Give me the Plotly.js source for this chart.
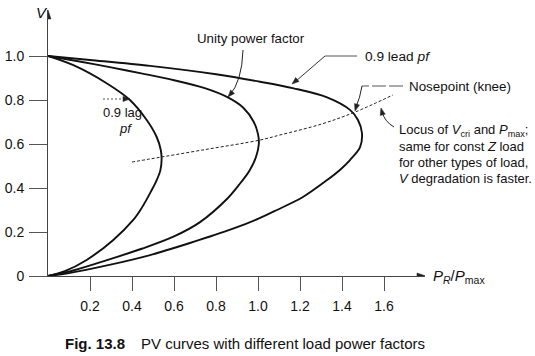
<!DOCTYPE html>
<html>
<head>
<meta charset="utf-8">
<script src="https://cdn.plot.ly/plotly-3.0.1.min.js"></script>
<style>
  html, body { margin: 0; padding: 0; background: #fff; }
  #chart { width: 535px; height: 356px; }
</style>
</head>
<body>
<div id="chart"></div>
<script>
// ---- data ----
const xTickVals = [0.2, 0.4, 0.6, 0.8, 1.0, 1.2, 1.4, 1.6];
const xTickText = ['0.2', '0.4', '0.6', '0.8', '1.0', '1.2', '1.4', '1.6'];
const yTickVals = [0, 0.2, 0.4, 0.6, 0.8, 1.0];
const yTickText = ['0', '0.2', '0.4', '0.6', '0.8', '1.0'];

// 0.9 lag pf curve (P_R/P_max, V)
const lagX = [0, 0.121, 0.279, 0.39, 0.47, 0.517, 0.537, 0.541, 0.535, 0.515, 0.488, 0.468, 0.44, 0.406, 0.311, 0.184, 0.08, 0];
const lagV = [1, 0.958, 0.876, 0.80, 0.709, 0.633, 0.573, 0.53, 0.48, 0.43, 0.38, 0.345, 0.30, 0.255, 0.164, 0.073, 0.022, 0];

// unity pf curve
const unityX = [0, 0.15, 0.3, 0.45, 0.6, 0.75, 0.852, 0.93, 0.98, 1.0, 1.004, 0.99, 0.96, 0.91, 0.852, 0.724, 0.6, 0.45, 0.281, 0.12, 0];
const unityV = [1, 0.975, 0.948, 0.92, 0.89, 0.853, 0.814, 0.765, 0.70, 0.645, 0.60, 0.54, 0.48, 0.415, 0.35, 0.245, 0.18, 0.125, 0.072, 0.025, 0];

// 0.9 lead pf curve
const leadX = [0, 0.2, 0.486, 0.8, 1.01, 1.17, 1.329, 1.438, 1.476, 1.495, 1.486, 1.438, 1.39, 1.329, 1.214, 1.09, 1.01, 0.881, 0.676, 0.486, 0.281, 0.1, 0];
const leadV = [1, 0.982, 0.955, 0.917, 0.883, 0.853, 0.812, 0.755, 0.709, 0.65, 0.586, 0.527, 0.482, 0.436, 0.359, 0.30, 0.264, 0.215, 0.15, 0.095, 0.048, 0.013, 0];

// locus of V_cri and P_max (dashed)
const locusX = [0.4, 0.486, 0.75, 1.01, 1.105, 1.3, 1.462, 1.643];
const locusV = [0.518, 0.532, 0.575, 0.618, 0.641, 0.69, 0.745, 0.823];

// ---- layout helpers (annotation placement, pixel -> axis / paper units) ----
const L = 48, B = 276, T = 10, R = 425;
const SX = 210, SY = 220;
const X = px => (px - L) / SX;
const Y = py => (B - py) / SY;
const XP = px => (px - L) / (R - L);
const YP = py => (B - py) / (B - T);
const P = (px, py) => X(px) + ',' + Y(py);
const FONT = 'Liberation Sans, Arial, Helvetica, sans-serif';

const curveLine = { color: '#111', width: 1.9, shape: 'spline', smoothing: 0.9 };
const traces = [
  { x: lagX, y: lagV, mode: 'lines', line: curveLine, hoverinfo: 'skip' },
  { x: unityX, y: unityV, mode: 'lines', line: curveLine, hoverinfo: 'skip' },
  { x: leadX, y: leadV, mode: 'lines', line: curveLine, hoverinfo: 'skip' },
  { x: locusX, y: locusV, mode: 'lines', line: { color: '#222', width: 1, dash: '3px,2px', shape: 'spline' }, hoverinfo: 'skip' }
];

function txt(text, px, py, size, opts) {
  return Object.assign({
    text: text, x: XP(px), y: YP(py), xref: 'paper', yref: 'paper',
    xanchor: 'left', yanchor: 'middle', showarrow: false,
    font: { family: FONT, size: size, color: '#111' }
  }, opts || {});
}

const annotations = [
  // axis labels
  txt('<i>V</i>', 34, 12, 15),
  txt('<i>P</i><sub><i>R</i></sub>/<i>P</i><sub>max</sub>', 431, 276, 15),
  // curve labels
  txt('Unity power factor', 195, 38, 13.3),
  txt('0.9 lead <i>pf</i>', 363, 57, 13.7),
  txt('Nosepoint (knee)', 407, 86, 13.4),
  txt('0.9 lag', 101, 113, 13),
  txt('<i>pf</i>', 117, 128, 13),
  txt('Locus of <i>V</i><sub>cri</sub> and <i>P</i><sub>max</sub>;', 397, 130, 13),
  txt('same for const <i>Z</i> load', 397, 146, 13),
  txt('for other types of load,', 397, 162, 13),
  txt('<i>V</i> degradation is faster.', 397, 178, 13),
  // caption
  txt('<b>Fig. 13.8</b>', 63, 343, 15),
  txt('PV curves with different load power factors', 139, 343, 15)
];

// filled arrowhead triangle, computed in pixel space then mapped to axis units
function tri(tx, ty, fx, fy, len, hw) {
  len = len || 7; hw = hw || 2.6;
  const dx = tx - fx, dy = ty - fy, d = Math.hypot(dx, dy);
  const ux = dx / d, uy = dy / d, bx = tx - ux * len, by = ty - uy * len;
  const nx = -uy, ny = ux;
  return {
    type: 'path', xref: 'x', yref: 'y',
    path: 'M' + P(tx, ty) + ' L' + P(bx + nx * hw, by + ny * hw) + ' L' + P(bx - nx * hw, by - ny * hw) + ' Z',
    fillcolor: '#222', line: { color: '#222', width: 0.5 }
  };
}
function seg(x0, y0, x1, y1, dash, color) {
  return { type: 'line', xref: 'x', yref: 'y', x0: X(x0), y0: Y(y0), x1: X(x1), y1: Y(y1),
           line: { color: color || '#333', width: 1, dash: dash || 'solid' } };
}
function qpath(x0, y0, cx, cy, x1, y1) {
  return { type: 'path', xref: 'x', yref: 'y',
           path: 'M' + P(x0, y0) + ' Q' + P(cx, cy) + ' ' + P(x1, y1),
           line: { color: '#222', width: 1 } };
}

const shapes = [
  // axis arrowheads
  tri(R + 1, B, R - 10, B, 9, 3),
  tri(L, T, L, T + 10, 9, 3),
  // unity pf curved leader
  qpath(243, 50, 242, 82, 229, 96),
  tri(228, 97, 234, 90),
  // 0.9 lead pf leader
  seg(357, 56, 325, 56, null, '#555'),
  seg(325, 56, 296, 81),
  tri(292, 84, 325, 56),
  // nosepoint leader
  seg(403, 86, 362, 86, '14px,3px', '#555'),
  qpath(362, 86, 360, 98, 356, 107),
  tri(355, 111, 358, 101),
  // locus curved leader
  qpath(394, 127, 385, 122, 382, 112),
  tri(381, 108, 383, 116),
  // 0.9 lag dotted leader
  seg(103, 99, 124, 99, '2px,2px', '#555'),
  tri(130, 99, 120, 99)
];

const layout = {
  width: 535, height: 356,
  margin: { l: L, r: 535 - R, t: T, b: 356 - B, pad: 0 },
  paper_bgcolor: '#fff', plot_bgcolor: '#fff',
  showlegend: false,
  font: { family: FONT, size: 14, color: '#111' },
  xaxis: {
    range: [0, (R - L) / SX], showgrid: false, zeroline: false,
    showline: true, linecolor: '#444', linewidth: 1,
    tickmode: 'array', tickvals: xTickVals, ticktext: xTickText,
    ticks: 'outside', ticklen: 14, tickcolor: '#555', tickwidth: 1,
    ticklabelstandoff: 3,
    tickfont: { family: FONT, size: 14, color: '#111' }, fixedrange: true
  },
  yaxis: {
    range: [0, (B - T) / SY], showgrid: false, zeroline: false,
    showline: true, linecolor: '#444', linewidth: 1,
    tickmode: 'array', tickvals: yTickVals, ticktext: yTickText,
    ticks: 'outside', ticklen: 18, tickcolor: '#555', tickwidth: 1,
    ticklabelstandoff: 2,
    tickfont: { family: FONT, size: 14, color: '#111' }, fixedrange: true
  },
  annotations: annotations,
  shapes: shapes
};

Plotly.newPlot('chart', traces, layout, { staticPlot: true, displayModeBar: false });
</script>
</body>
</html>
